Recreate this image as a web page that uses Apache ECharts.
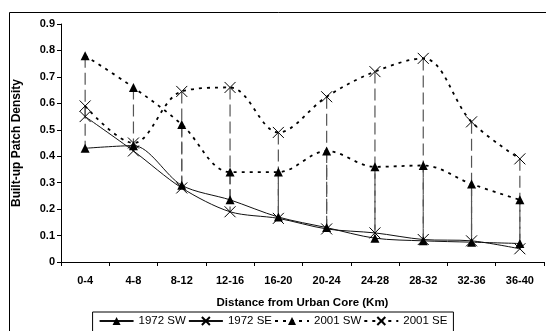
<!DOCTYPE html>
<html><head><meta charset="utf-8">
<script src="https://cdn.jsdelivr.net/npm/echarts@6/dist/echarts.min.js"></script>
<style>html,body{margin:0;padding:0;background:#fff}#c{width:546px;height:331px}</style>
</head><body><div id="c"></div>
<script>
const categories = ['0-4','4-8','8-12','12-16','16-20','20-24','24-28','28-32','32-36','36-40'];
const sw1972 = [0.43,0.44,0.29,0.235,0.17,0.13,0.09,0.08,0.075,0.07];
const se1972 = [0.55,0.42,0.28,0.19,0.165,0.125,0.11,0.085,0.08,0.05];
const sw2001 = [0.78,0.66,0.52,0.34,0.34,0.42,0.36,0.365,0.295,0.235];
const se2001 = [0.59,0.45,0.645,0.66,0.49,0.625,0.72,0.77,0.53,0.39];
const yTicks = ['0','0.1','0.2','0.3','0.4','0.5','0.6','0.7','0.8','0.9'];

const FONT = '"Liberation Sans", Arial, sans-serif';
const X_PATH = 'path://M0,0L10,10M10,0L0,10';

function dropSeries(top, bottom) {
  return {
    type: 'custom',
    silent: true,
    z: 1,
    data: categories.map((c, i) => [i, top[i], bottom[i]]),
    renderItem: function (params, api) {
      const a = api.coord([api.value(0), api.value(1)]);
      const b = api.coord([api.value(0), api.value(2)]);
      return {
        type: 'line',
        shape: { x1: a[0], y1: a[1], x2: b[0], y2: b[1] },
        style: { stroke: '#555', lineWidth: 1.2, lineDash: [12, 5] }
      };
    }
  };
}

const chart = echarts.init(document.getElementById('c'), null, { renderer: 'canvas' });
chart.setOption({
  animation: false,
  backgroundColor: '#fff',
  textStyle: { fontFamily: FONT },
  graphic: [{
    type: 'rect', left: 7, top: 10, silent: true, z: -1,
    shape: { width: 545, height: 330 },
    style: { fill: 'none', stroke: '#000', lineWidth: 1 }
  }],
  grid: { left: 61, right: 2, top: 24, bottom: 69 },
  xAxis: {
    type: 'category',
    data: categories,
    boundaryGap: true,
    name: 'Distance from Urban Core (Km)',
    nameLocation: 'middle',
    nameGap: 35,
    nameTextStyle: { fontWeight: 'bold', fontSize: 11.5, color: '#000', fontFamily: FONT },
    axisLine: { lineStyle: { color: '#000', width: 1 } },
    axisTick: { show: true, length: 4, inside: false, lineStyle: { color: '#000' } },
    axisLabel: { fontWeight: 'bold', fontSize: 11, color: '#000', margin: 13, fontFamily: FONT },
    splitLine: { show: false }
  },
  yAxis: {
    type: 'value',
    min: 0, max: 0.9, interval: 0.1,
    name: 'Built-up Patch Density',
    nameLocation: 'middle',
    nameGap: 38,
    nameRotate: 90,
    nameTextStyle: { fontWeight: 'bold', fontSize: 12, color: '#000', fontFamily: FONT },
    axisLine: { show: true, lineStyle: { color: '#000', width: 1 } },
    axisTick: { show: true, length: 4, lineStyle: { color: '#000' } },
    axisLabel: {
      fontWeight: 'bold', fontSize: 11, color: '#000', margin: 6, fontFamily: FONT,
      formatter: function (v) { return yTicks[Math.round(v * 10)]; }
    },
    splitLine: { show: false }
  },
  legend: {
    bottom: -4,
    left: 'center',
    itemWidth: 34,
    itemHeight: 10,
    itemGap: 2,
    padding: [3, 6, 8, 6],
    borderColor: '#000',
    borderWidth: 1,
    textStyle: { fontSize: 11.5, color: '#000', fontFamily: FONT },
    data: ['1972 SW', '1972 SE', '2001 SW', '2001 SE']
  },
  series: [
    dropSeries(sw2001, sw1972),
    dropSeries(se2001, se1972),
    {
      name: '1972 SW', type: 'line', data: sw1972, smooth: 0.3, z: 3,
      symbol: 'triangle', symbolSize: 9,
      lineStyle: { color: '#111', width: 1 },
      itemStyle: { color: '#000' }
    },
    {
      name: '1972 SE', type: 'line', data: se1972, smooth: 0.3, z: 3,
      symbol: X_PATH, symbolSize: 11,
      lineStyle: { color: '#111', width: 1 },
      itemStyle: { color: '#000', borderColor: '#000', borderWidth: 1 }
    },
    {
      name: '2001 SW', type: 'line', data: sw2001, smooth: 0.35, z: 3,
      symbol: 'triangle', symbolSize: 9,
      lineStyle: { color: '#000', width: 1.8, type: [3, 5] },
      itemStyle: { color: '#000' }
    },
    {
      name: '2001 SE', type: 'line', data: se2001, smooth: 0.35, z: 3,
      symbol: X_PATH, symbolSize: 11,
      lineStyle: { color: '#000', width: 1.8, type: [3, 5] },
      itemStyle: { color: '#000', borderColor: '#000', borderWidth: 1 }
    }
  ]
});
</script></body></html>
